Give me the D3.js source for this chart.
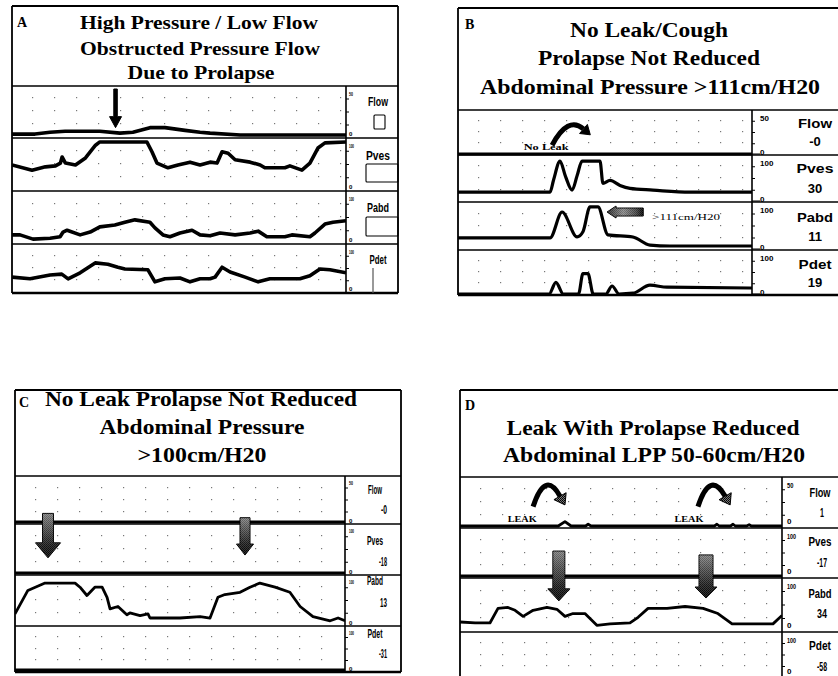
<!DOCTYPE html>
<html>
<head>
<meta charset="utf-8">
<script src="https://cdn.jsdelivr.net/npm/d3@7"></script>
<style>
  body { margin: 0; background: #fff; }
  svg { display: block; }
  .title { font-family: "Liberation Serif", "Times New Roman", serif; font-weight: bold; fill: #000; }
  .note { font-family: "Liberation Serif", "Times New Roman", serif; fill: #000; }
  .lbl { font-family: "Liberation Sans Narrow", "Liberation Sans", Arial, sans-serif; font-weight: bold; fill: #000; }
  .lbl-wide { font-family: "Liberation Sans", Arial, sans-serif; font-weight: bold; fill: #000; }
</style>
</head>
<body>
<svg id="chart" width="838" height="676"></svg>
<script>
// ---- data ----
const channels = ["Flow", "Pves", "Pabd", "Pdet"];
const timeDomain = [0, 100];
const flowDomain = [0, 50];
const pressureDomain = [0, 100];

const titleA = ["High Pressure / Low Flow", "Obstructed Pressure Flow", "Due to Prolapse"];
const titleB = ["No Leak/Cough", "Prolapse Not Reduced", "Abdominal Pressure >111cm/H20"];
const titleC = ["No Leak Prolapse Not Reduced", "Abdominal Pressure", ">100cm/H20"];
const titleD = ["Leak With Prolapse Reduced", "Abdominal LPP 50-60cm/H20"];

const topTickFlow = "50";
const topTickPressure = "100";
const bottomTick = "0";

const readoutB = ["-0", "30", "11", "19"];
const readoutC = ["-0", "-18", "13", "-31"];
const readoutD = ["1", "-17", "34", "-58"];

// [time, value]
const flowA = [[0,1],[6.9,1],[11.4,3],[15.9,4],[26.3,4],[32.3,2],[36.2,3],[41.3,8],[45.8,8],[51.8,5],[56.3,3],[59.3,2],[68.3,0],[100,0]];
const pvesA = [[0,49],[6,38],[10,45],[13,47],[14.5,53],[15,66],[16,53],[19,49],[22,64],[25,91],[26.3,98],[40.4,98],[41.9,77],[43.4,53],[46.7,43],[49.7,49],[53.3,55],[56.3,49],[59.3,55],[61.4,53],[62.9,77],[64.7,74],[66.8,60],[71.3,55],[74.3,49],[75.7,43],[81.7,43],[83.2,47],[86.8,38],[89.2,53],[91.6,85],[93.7,96],[100,98]];
const pabdA = [[0,13],[2.4,13],[6.3,4],[11.4,6],[14.4,9],[15.3,19],[16.5,23],[20.4,13],[23.4,19],[26.3,30],[30.8,34],[33.8,40],[36.8,45],[41.3,40],[42.8,28],[45.2,13],[47.3,9],[50.3,17],[53.9,23],[56.3,13],[59.3,11],[62.3,17],[66.8,13],[71.3,17],[73.7,21],[76.3,9],[81.7,9],[83.8,13],[89.2,9],[90.7,17],[93.7,36],[96.1,40],[100,43]];
const pdetA = [[0,30],[5.4,26],[11.4,35],[14.9,37],[16.8,26],[20.4,40],[24.9,63],[28.7,60],[31.7,53],[33.8,49],[40.7,47],[42.8,19],[45.8,26],[50.3,28],[53.3,19],[56.3,26],[59.3,26],[60.8,30],[62.9,53],[65.3,42],[69.8,30],[73.7,19],[77.2,26],[86.2,26],[89.2,33],[92.2,49],[95.2,47],[100,40]];

const flowB = [[0,0],[100,0]];
const pvesB = [[0,21],[31.3,21],[32.5,50],[34.7,95],[36.5,60],[38.8,26],[40.5,60],[42.2,95],[48.3,95],[49.3,42],[51.7,49],[55.1,37],[58.5,30],[66.3,26],[78.9,21],[100,21]];
const pabdB = [[0,26],[31.3,26],[35.4,86],[40.5,28],[42.5,40],[44.9,98],[47.6,98],[51,33],[59.5,28],[65.3,9],[72.1,7],[100,7]];
const pdetB = [[0,0],[31,0],[33.3,29],[35.8,0],[41,0],[42.5,51],[44.2,51],[46,0],[50.3,0],[52.4,20],[54.8,0],[59.5,2],[65.3,22],[71.1,17],[100,15]];

const flowC = [[0,0],[100,0]];
const pvesC = [[0,0],[100,0]];
const pabdC = [[0,22],[3.9,73],[9.1,89],[18.2,89],[19.7,80],[21.8,62],[24.2,80],[26.4,80],[27.9,58],[28.8,33],[31.2,38],[33.9,20],[34.8,24],[37.9,18],[40.3,22],[40.9,13],[50,13],[56.1,16],[59.1,13],[61.5,58],[63.6,64],[68.2,69],[71.2,80],[74.2,89],[78.8,80],[83.3,69],[86.4,38],[90.3,16],[95.5,7],[97.9,13],[100,7]];
const pdetC = [[0,0],[100,0]];

const flowD = [[0,0],[30.5,0],[32.6,5],[34.5,0],[39,0],[39.8,2],[40.7,0],[79,0],[79.8,2],[80.5,0],[84,0],[84.8,2],[85.5,0],[89,0],[89.8,1.5],[90.5,0],[100,0]];
const pvesD = [[0,0],[100,0]];
const pabdD = [[0,17],[4.7,15],[9.3,15],[11.8,46],[14.9,48],[17.1,42],[19.6,29],[22.7,42],[27,48],[30.1,44],[32.6,29],[35.1,35],[38.8,35],[42.5,10],[46.6,13],[52.8,15],[55.3,27],[58.4,46],[64.3,46],[69.9,50],[75.5,46],[80.1,35],[84.5,13],[97.2,13],[100,31]];

// annotations, anchored in [time, value]
const dropArrowsA = [{ t: 31, from: ["Flow", 50], to: ["Flow", 8] }];
const dropArrowsC = [{ t: 10, from: ["Flow", 10], to: ["Pves", 33] }, { t: 69.7, from: ["Flow", 5], to: ["Pves", 39] }];
const dropArrowsD = [{ t: 30.7, from: ["Pves", 58], to: ["Pabd", 62] }, { t: 76.4, from: ["Pves", 49], to: ["Pabd", 68] }];
const arcArrowsB = [{ ch: "Flow", from: [32, 11], ctrl: [37.4, 48], to: [45, 24] }];
const arcArrowsD = [{ ch: "Flow", from: [22.7, 22], ctrl: [26.4, 64], to: [32.6, 24] }, { ch: "Flow", from: [73.9, 22], ctrl: [77.6, 64], to: [83.9, 24] }];
const pointersB = [{ ch: "Pabd", from: [63, 86], to: [50.7, 86] }];
const notesB = [{ text: "No Leak", ch: "Flow", t: 30, v: 5 }, { text: ">111cm/H20", ch: "Pabd", t: 66, v: 67 }];
const notesD = [{ text: "LEAK", ch: "Flow", t: 19.3, v: 4.5 }, { text: "LEAK", ch: "Flow", t: 71.1, v: 4.5 }];

// ---- layout ----
const panels = [
  {
    letter: "A", letterPos: [17, 27], left: 12, top: 6, colRight: 398, plotRight: 346, titleBottom: 86,
    strips: [86, 138, 191, 244, 293], boxBottom: 293, rightBorder: true, pad: [3, 3],
    curve: d3.curveLinear, stroke: 3.6, titleSize: 19,
    titles: titleA, titlePos: [[199, 29, 238], [200, 55, 240], [201, 79, 147]],
    traces: [flowA, pvesA, pabdA, pdetA],
    names: { cls: "lbl", x: 378, y: [106, 160, 212, 264], w: [20, 24, 22, 17], size: 13 },
    ticks: { x: 349, size: 6, top: 10, bottom: 2, w: [5, 5] },
    boxes: [[374, 115, 11, 14], [366, 164, 32, 18], [366, 217, 32, 19]],
    pdetBar: [373, 268, 293],
    drops: dropArrowsA, dropStyle: { shaft: 3.5, head: 12, headLen: 11, fill: "#000" }
  },
  {
    letter: "B", letterPos: [465, 29], left: 458, top: 8, colRight: 838, plotRight: 752, titleBottom: 110,
    strips: [110, 155, 202, 250, 295], boxBottom: 295, rightBorder: false, pad: [1, 4],
    curve: d3.curveMonotoneX, stroke: 3.2, titleSize: 21,
    titles: titleB, titlePos: [[649, 37, 158], [649, 65, 222], [650, 94, 340]],
    traces: [flowB, pvesB, pabdB, pdetB],
    names: { cls: "lbl-wide", x: 815, y: [128, 173, 222, 269], w: [34, 37, 36, 33], size: 13 },
    readouts: { values: readoutB, cls: "lbl-wide", x: 815, anchor: "middle", y: [146, 193, 241, 287], size: 13 },
    ticks: { x: 760, size: 8, top: 11, bottom: 0, longZero: true },
    arcs: arcArrowsB, arcStyle: { width: 5, headLen: 9, headW: 6, fill: "#000" },
    pointers: pointersB, notes: notesB,
    noteStyle: [{ size: 9, anchor: "middle", weight: "bold", w: 45 }, { size: 9, anchor: "start", weight: "normal", w: 68 }]
  },
  {
    letter: "C", letterPos: [19, 407], left: 15, top: 390, colRight: 401, plotRight: 345, titleBottom: 476,
    strips: [476, 524, 575, 626, 672], boxBottom: 672, rightBorder: true, pad: [2, 3],
    curve: d3.curveLinear, stroke: 2.8, titleSize: 21,
    titles: titleC, titlePos: [[201, 406, 312], [202, 434, 205], [202, 462, 129]],
    traces: [flowC, pvesC, pabdC, pdetC],
    names: { cls: "lbl", x: 375, y: [494, 545, 585, 638], w: [14, 16, 16, 15], size: 12 },
    readouts: { values: readoutC, cls: "lbl", x: 387, anchor: "end", y: [514, 566, 607, 658], size: 12, w: [6, 8, 7, 8] },
    ticks: { x: 349, size: 6, top: 9, bottom: 1, w: [5, 5] },
    drops: dropArrowsC, dropStyles: [{ shaft: 11, head: 25, headLen: 15 }, { shaft: 10, head: 17, headLen: 11 }]
  },
  {
    letter: "D", letterPos: [465, 410], left: 460, top: 390, colRight: 838, plotRight: 782, titleBottom: 477,
    strips: [477, 528, 578, 632, 678], boxBottom: null, rightBorder: false, pad: [2, 5],
    curve: d3.curveLinear, stroke: 2.8, titleSize: 21,
    titles: titleD, titlePos: [[653, 435, 293], [654, 462, 302]],
    traces: [flowD, pvesD, pabdD, null],
    names: { cls: "lbl", x: 820, y: [497, 546, 598, 650], w: [21, 23, 23, 22], size: 12 },
    readouts: { values: readoutD, cls: "lbl", x: 822, anchor: "middle", y: [517, 567, 618, 671], size: 12, w: [4, 10, 10, 10] },
    ticks: { x: 787, size: 8, top: 11, bottom: 4, w: [8, 9] },
    arcs: arcArrowsD, arcStyle: { width: 5, headLen: 10, headW: 7, fill: "url(#dither)" },
    drops: dropArrowsD, dropStyles: [{ shaft: 12, head: 22, headLen: 12 }, { shaft: 14, head: 22, headLen: 11 }],
    notes: notesD, noteStyle: [{ size: 8, anchor: "middle", weight: "bold", w: 29 }, { size: 8, anchor: "middle", weight: "bold", w: 29 }]
  }
];

const svg = d3.select("#chart");
const defs = svg.append("defs");

const gradDown = defs.append("linearGradient").attr("id", "gradDown")
  .attr("x1", 0).attr("y1", 0).attr("x2", 0).attr("y2", 1);
gradDown.selectAll("stop")
  .data([["0%", "#a8a8a8"], ["40%", "#5a5a5a"], ["70%", "#222"], ["100%", "#000"]])
  .join("stop")
    .attr("offset", d => d[0])
    .attr("stop-color", d => d[1]);

const gradSide = defs.append("linearGradient").attr("id", "gradSide")
  .attr("x1", 0).attr("y1", 0).attr("x2", 1).attr("y2", 0);
gradSide.selectAll("stop")
  .data([["0%", "#333"], ["45%", "#aaa"], ["80%", "#555"], ["100%", "#000"]])
  .join("stop")
    .attr("offset", d => d[0])
    .attr("stop-color", d => d[1]);

const dither = defs.append("pattern").attr("id", "dither")
  .attr("width", 2).attr("height", 2).attr("patternUnits", "userSpaceOnUse");
dither.append("rect").attr("width", 2).attr("height", 2).attr("fill", "#777");
dither.append("rect").attr("width", 1).attr("height", 1).attr("fill", "#000");
dither.append("rect").attr("x", 1).attr("y", 1).attr("width", 1).attr("height", 1).attr("fill", "#111");

const drawPanel = (p) => {

  const g = svg.append("g").attr("class", `panel panel-${p.letter}`);
  const x = d3.scaleLinear().domain(timeDomain).range([p.left, p.plotRight]);
  const y = {};
  channels.forEach((c, i) => {
    y[c] = d3.scaleLinear()
      .domain(c === "Flow" ? flowDomain : pressureDomain)
      .range([p.strips[i + 1] - p.pad[0], p.strips[i] + p.pad[1]]);
  });

  // dotted grid
  const cols = d3.range(p.left + 20, p.plotRight - 4, 22);
  const dots = [];
  channels.forEach((c, i) => {
    const top = p.strips[i], h = p.strips[i + 1] - top;
    [0.22, 0.47, 0.72].forEach(f => cols.forEach(cx => dots.push([cx, top + f * h])));
  });
  g.append("g").selectAll("rect")
    .data(dots)
    .join("rect")
      .attr("x", d => d[0])
      .attr("y", d => Math.round(d[1]))
      .attr("width", 1.2)
      .attr("height", 1.2)
      .attr("fill", "#777");

  // traces
  const clipId = `clip-${p.letter}`;
  defs.append("clipPath").attr("id", clipId)
    .append("rect")
      .attr("x", p.left)
      .attr("y", p.strips[0])
      .attr("width", p.plotRight - p.left)
      .attr("height", p.strips[4] - p.strips[0]);

  p.traces.forEach((values, i) => {
    if (!values) return;
    const ch = channels[i];
    const line = d3.line()
      .x(d => x(d[0]))
      .y(d => y[ch](Math.max(d[1], y[ch].domain()[0])))
      .curve(p.curve);
    g.append("path")
      .datum(values)
      .attr("clip-path", `url(#${clipId})`)
      .attr("d", line)
      .attr("fill", "none")
      .attr("stroke", "#000")
      .attr("stroke-width", p.stroke)
      .attr("stroke-linejoin", "round");
  });

  // frame
  const frame = g.append("g").attr("stroke", "#000").attr("fill", "none");
  const bottom = p.boxBottom || 676;
  frame.append("line").attr("x1", p.left).attr("x2", p.colRight).attr("y1", p.top).attr("y2", p.top).attr("stroke-width", 1.8);
  frame.append("line").attr("x1", p.left).attr("x2", p.left).attr("y1", p.top).attr("y2", bottom).attr("stroke-width", 1.8);
  if (p.rightBorder) {
    frame.append("line").attr("x1", p.colRight).attr("x2", p.colRight).attr("y1", p.top).attr("y2", bottom).attr("stroke-width", 1.8);
  }
  frame.append("line").attr("x1", p.left).attr("x2", p.colRight).attr("y1", p.titleBottom).attr("y2", p.titleBottom).attr("stroke-width", 1.4);
  frame.selectAll(".divider")
    .data(p.strips.slice(1, 4))
    .join("line")
      .attr("class", "divider")
      .attr("x1", p.left).attr("x2", p.colRight)
      .attr("y1", d => d).attr("y2", d => d)
      .attr("stroke-width", 1.3);
  if (p.boxBottom) {
    frame.append("line").attr("x1", p.left).attr("x2", p.colRight).attr("y1", p.boxBottom).attr("y2", p.boxBottom).attr("stroke-width", 2.4);
  }

  // scale column axis
  frame.append("line").attr("x1", p.plotRight).attr("x2", p.plotRight)
    .attr("y1", p.strips[0]).attr("y2", Math.min(p.strips[4], 676)).attr("stroke-width", 1.6);
  channels.forEach((c, i) => {
    const top = p.strips[i], h = p.strips[i + 1] - top;
    frame.selectAll(null)
      .data([0.25, 0.5, 0.75])
      .join("line")
        .attr("x1", p.plotRight).attr("x2", p.plotRight + 3)
        .attr("y1", f => top + f * h).attr("y2", f => top + f * h)
        .attr("stroke-width", 1);
    if (p.ticks.longZero) {
      frame.append("line")
        .attr("x1", p.plotRight).attr("x2", p.plotRight + 8)
        .attr("y1", p.strips[i + 1] - 1).attr("y2", p.strips[i + 1] - 1)
        .attr("stroke-width", 1);
    }
  });

  // tick labels
  channels.forEach((c, i) => {
    const topText = g.append("text").attr("class", "lbl")
      .attr("x", p.ticks.x)
      .attr("y", p.strips[i] + p.ticks.top)
      .attr("font-size", p.ticks.size)
      .text(c === "Flow" ? topTickFlow : topTickPressure);
    if (p.ticks.w) {
      topText.attr("textLength", c === "Flow" ? p.ticks.w[0] * 0.8 : p.ticks.w[1])
        .attr("lengthAdjust", "spacingAndGlyphs");
    }
    g.append("text").attr("class", "lbl")
      .attr("x", p.ticks.x)
      .attr("y", p.strips[i + 1] - p.ticks.bottom)
      .attr("font-size", p.ticks.size)
      .text(bottomTick);
  });

  // channel names
  g.selectAll(".name")
    .data(channels)
    .join("text")
      .attr("class", `name ${p.names.cls}`)
      .attr("x", p.names.x)
      .attr("y", (d, i) => p.names.y[i])
      .attr("text-anchor", "middle")
      .attr("font-size", p.names.size)
      .attr("textLength", (d, i) => p.names.w[i])
      .attr("lengthAdjust", "spacingAndGlyphs")
      .text(d => d);

  if (p.readouts) {
    const r = p.readouts;
    const rt = g.selectAll(".readout")
      .data(r.values)
      .join("text")
        .attr("class", `readout ${r.cls}`)
        .attr("x", r.x)
        .attr("y", (d, i) => r.y[i])
        .attr("text-anchor", r.anchor)
        .attr("font-size", r.size)
        .text(d => d);
    if (r.w) {
      rt.attr("textLength", (d, i) => r.w[i]).attr("lengthAdjust", "spacingAndGlyphs");
    }
  }

  if (p.boxes) {
    g.selectAll(".readbox")
      .data(p.boxes)
      .join("rect")
        .attr("class", "readbox")
        .attr("x", d => d[0]).attr("y", d => d[1])
        .attr("width", d => d[2]).attr("height", d => d[3])
        .attr("rx", 1)
        .attr("fill", "none")
        .attr("stroke", "#000")
        .attr("stroke-width", 1.1);
    g.append("line")
      .attr("x1", p.pdetBar[0]).attr("x2", p.pdetBar[0])
      .attr("y1", p.pdetBar[1]).attr("y2", p.pdetBar[2])
      .attr("stroke", "#555").attr("stroke-width", 1.2);
  }

  // titles
  g.append("text").attr("class", "title")
    .attr("x", p.letterPos[0]).attr("y", p.letterPos[1])
    .attr("font-size", 14)
    .text(p.letter);
  g.selectAll(".tline")
    .data(p.titles)
    .join("text")
      .attr("class", "title tline")
      .attr("x", (d, i) => p.titlePos[i][0])
      .attr("y", (d, i) => p.titlePos[i][1])
      .attr("text-anchor", "middle")
      .attr("font-size", p.titleSize)
      .attr("textLength", (d, i) => p.titlePos[i][2])
      .attr("lengthAdjust", "spacingAndGlyphs")
      .text(d => d);

  // vertical drop arrows
  (p.drops || []).forEach((a, k) => {
    const s = p.dropStyle || p.dropStyles[k];
    const cx = x(a.t);
    const y0 = y[a.from[0]](a.from[1]);
    const y1 = y[a.to[0]](a.to[1]);
    const yh = y1 - s.headLen;
    const pts = [
      [cx - s.shaft / 2, y0], [cx + s.shaft / 2, y0], [cx + s.shaft / 2, yh],
      [cx + s.head / 2, yh], [cx, y1], [cx - s.head / 2, yh], [cx - s.shaft / 2, yh]
    ];
    g.append("path")
      .attr("d", "M" + pts.join("L") + "Z")
      .attr("fill", s.fill || "url(#gradDown)")
      .attr("stroke", "#000")
      .attr("stroke-width", 1);
    if (!s.fill) {
      g.append("path")
        .attr("d", "M" + pts.join("L") + "Z")
        .attr("fill", "url(#dither)")
        .attr("opacity", 0.35);
    }
  });

  // curved arrows
  (p.arcs || []).forEach(a => {
    const s = p.arcStyle;
    const p0 = [x(a.from[0]), y[a.ch](a.from[1])];
    const p1 = [x(a.ctrl[0]), y[a.ch](a.ctrl[1])];
    const p2 = [x(a.to[0]), y[a.ch](a.to[1])];
    const dx = p2[0] - p1[0], dy = p2[1] - p1[1], len = Math.hypot(dx, dy);
    const ux = dx / len, uy = dy / len, nx = -uy, ny = ux;
    const base = [p2[0] - ux * s.headLen, p2[1] - uy * s.headLen];
    g.append("path")
      .attr("d", `M${p0}Q${p1} ${base}`)
      .attr("fill", "none")
      .attr("stroke", "#000")
      .attr("stroke-width", s.width);
    g.append("path")
      .attr("d", `M${p2}L${base[0] + nx * s.headW},${base[1] + ny * s.headW}L${base[0] - nx * s.headW},${base[1] - ny * s.headW}Z`)
      .attr("fill", s.fill)
      .attr("stroke", "#000")
      .attr("stroke-width", 1);
  });

  // horizontal pointer arrows
  (p.pointers || []).forEach(a => {
    const xt = x(a.from[0]), xh = x(a.to[0]), cy = y[a.ch](a.from[1]);
    const hl = 9, sh = 4, hw = 6;
    const pts = [[xt, cy - sh], [xh + hl, cy - sh], [xh + hl, cy - hw], [xh, cy], [xh + hl, cy + hw], [xh + hl, cy + sh], [xt, cy + sh]];
    g.append("path")
      .attr("d", "M" + pts.join("L") + "Z")
      .attr("fill", "url(#gradSide)")
      .attr("stroke", "#000")
      .attr("stroke-width", 1);
    g.append("path")
      .attr("d", "M" + pts.join("L") + "Z")
      .attr("fill", "url(#dither)")
      .attr("opacity", 0.3);
  });

  // text notes
  (p.notes || []).forEach((n, k) => {
    const s = p.noteStyle[k];
    g.append("text")
      .attr("class", "note")
      .attr("x", x(n.t))
      .attr("y", y[n.ch](n.v))
      .attr("text-anchor", s.anchor)
      .attr("font-size", s.size)
      .attr("font-weight", s.weight)
      .attr("textLength", s.w)
      .attr("lengthAdjust", "spacingAndGlyphs")
      .text(n.text);
  });

};

panels.forEach(drawPanel);
</script>
</body>
</html>
